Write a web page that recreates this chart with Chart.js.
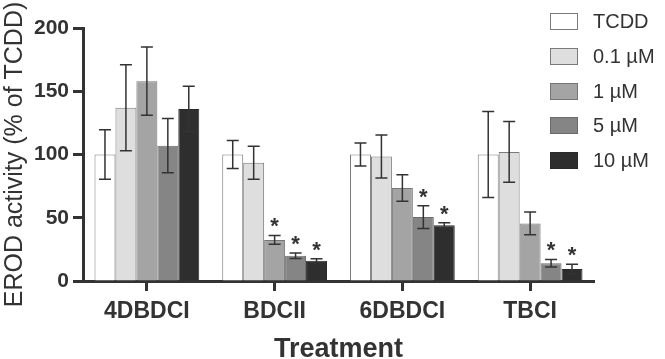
<!DOCTYPE html>
<html>
<head>
<meta charset="utf-8">
<title>EROD activity</title>
<script src="https://cdn.jsdelivr.net/npm/chart.js@4.4.1/dist/chart.umd.min.js"></script>
<style>
    html, body { margin: 0; padding: 0; background: #fff; }
    #wrap { position: relative; width: 665px; height: 359px; }
    #legend {
        position: absolute; left: 550px; top: 13px;
        font-family: "Liberation Sans", Arial, sans-serif; font-size: 20px; color: #333;
    }
    .legend-item { display: flex; align-items: center; height: 17px; margin-bottom: 17.8px; }
    .legend-box { width: 26px; height: 15px; border: 1px solid #7a7a7a; margin-right: 15px; }
</style>
</head>
<body>
<div id="wrap">
    <canvas id="chart" width="665" height="359"></canvas>
    <div id="legend"></div>
</div>
<script>
// Data (% of TCDD, mean and error)
const categories = ['4DBDCI', 'BDCII', '6DBDCI', 'TBCI'];
const seriesLabels = ['TCDD', '0.1 µM', '1 µM', '5 µM', '10 µM'];

const tcddValues = [100, 100, 100, 100];
const tcddErrors = [19.5, 11, 9, 34];
const dose01Values = [137, 93.5, 98.5, 102];
const dose01Errors = [34, 13, 17, 24];
const dose1Values = [158, 32.5, 73.5, 45.5];
const dose1Errors = [27, 3.5, 10.5, 9];
const dose5Values = [107, 20, 50.5, 14];
const dose5Errors = [21.5, 2.2, 9, 3];
const dose10Values = [136, 16, 44, 9.5];
const dose10Errors = [18, 1.5, 2, 3.7];

// significance markers (*) per bar
const tcddSig = [false, false, false, false];
const dose01Sig = [false, false, false, false];
const dose1Sig = [false, true, false, false];
const dose5Sig = [false, true, true, true];
const dose10Sig = [false, true, true, true];

const yTicks = [0, 50, 100, 150, 200];

(function() {
    'use strict';

    const fills = ['#ffffff', '#dedede', '#a4a4a4', '#858585', '#2e2e2e'];
    const borders = ['#7a7a7a', '#7a7a7a', '#767676', '#6a6a6a', '#2a2a2a'];
    const ink = '#333333';
    const fontFamily = '"Liberation Sans", Arial, sans-serif';

    const values = [tcddValues, dose01Values, dose1Values, dose5Values, dose10Values];
    const errors = [tcddErrors, dose01Errors, dose1Errors, dose5Errors, dose10Errors];
    const sigs = [tcddSig, dose01Sig, dose1Sig, dose5Sig, dose10Sig];

    // Error bars and asterisks, positioned through the chart's scales
    const errorBarPlugin = {
        id: 'errorBars',
        afterDatasetsDraw: function(chart) {
            const ctx = chart.ctx;
            const yScale = chart.scales.y;
            ctx.save();
            ctx.strokeStyle = ink;
            ctx.lineWidth = 1.5;
            ctx.fillStyle = ink;
            ctx.font = 'bold 22px ' + fontFamily;
            ctx.textAlign = 'center';
            ctx.textBaseline = 'alphabetic';
            chart.data.datasets.forEach(function(ds, i) {
                const meta = chart.getDatasetMeta(i);
                meta.data.forEach(function(bar, j) {
                    const v = values[i][j];
                    const e = errors[i][j];
                    const yTop = yScale.getPixelForValue(v + e);
                    const yBot = yScale.getPixelForValue(v - e);
                    const x = bar.x;
                    const cap = 6;
                    ctx.beginPath();
                    ctx.moveTo(x, yTop);
                    ctx.lineTo(x, yBot);
                    ctx.moveTo(x - cap, yTop);
                    ctx.lineTo(x + cap, yTop);
                    ctx.moveTo(x - cap, yBot);
                    ctx.lineTo(x + cap, yBot);
                    ctx.stroke();
                    if (sigs[i][j]) {
                        ctx.fillText('*', x, yTop - 2);
                    }
                });
            });
            ctx.restore();
        }
    };

    function buildLegend() {
        const el = document.getElementById('legend');
        seriesLabels.forEach(function(label, i) {
            const item = document.createElement('div');
            item.className = 'legend-item';
            const box = document.createElement('span');
            box.className = 'legend-box';
            box.style.background = fills[i];
            box.style.borderColor = borders[i];
            const text = document.createElement('span');
            text.textContent = label;
            item.appendChild(box);
            item.appendChild(text);
            el.appendChild(item);
        });
    }

    const datasets = seriesLabels.map(function(label, i) {
        return {
            label: label,
            data: values[i],
            backgroundColor: fills[i],
            borderColor: borders[i],
            borderWidth: 1,
            categoryPercentage: 0.82,
            barPercentage: 1.0
        };
    });

    new Chart(document.getElementById('chart'), {
        type: 'bar',
        data: { labels: categories, datasets: datasets },
        options: {
            responsive: false,
            animation: false,
            layout: { padding: { top: 28, right: 71, left: 0, bottom: 0 } },
            plugins: {
                legend: { display: false },
                tooltip: { enabled: false }
            },
            scales: {
                x: {
                    afterFit: function(scale) { scale.height = 78; },
                    grid: {
                        offset: false,
                        drawOnChartArea: false,
                        tickLength: 10,
                        tickWidth: 3,
                        tickColor: ink
                    },
                    border: { display: true, width: 3, color: ink },
                    ticks: {
                        color: ink,
                        padding: 7,
                        font: { family: fontFamily, size: 23, weight: 'bold' }
                    },
                    title: {
                        display: true,
                        text: 'Treatment',
                        color: ink,
                        padding: { top: 0, bottom: -7 },
                        font: { family: fontFamily, size: 27, weight: 'bold' }
                    }
                },
                y: {
                    min: 0,
                    max: 200,
                    afterFit: function(scale) { scale.width = 83; },
                    afterBuildTicks: function(scale) {
                        scale.ticks = yTicks.map(function(v) { return { value: v }; });
                    },
                    grid: {
                        drawOnChartArea: false,
                        tickLength: 10,
                        tickWidth: 3,
                        tickColor: ink
                    },
                    border: { display: true, width: 3, color: ink },
                    ticks: {
                        color: ink,
                        padding: 4,
                        font: { family: fontFamily, size: 21, weight: 'bold' }
                    },
                    title: {
                        display: true,
                        text: 'EROD activity (% of TCDD)',
                        color: ink,
                        padding: { top: 0, bottom: 0 },
                        font: { family: fontFamily, size: 25 }
                    }
                }
            }
        },
        plugins: [errorBarPlugin]
    });

    buildLegend();
})();
</script>
</body>
</html>
